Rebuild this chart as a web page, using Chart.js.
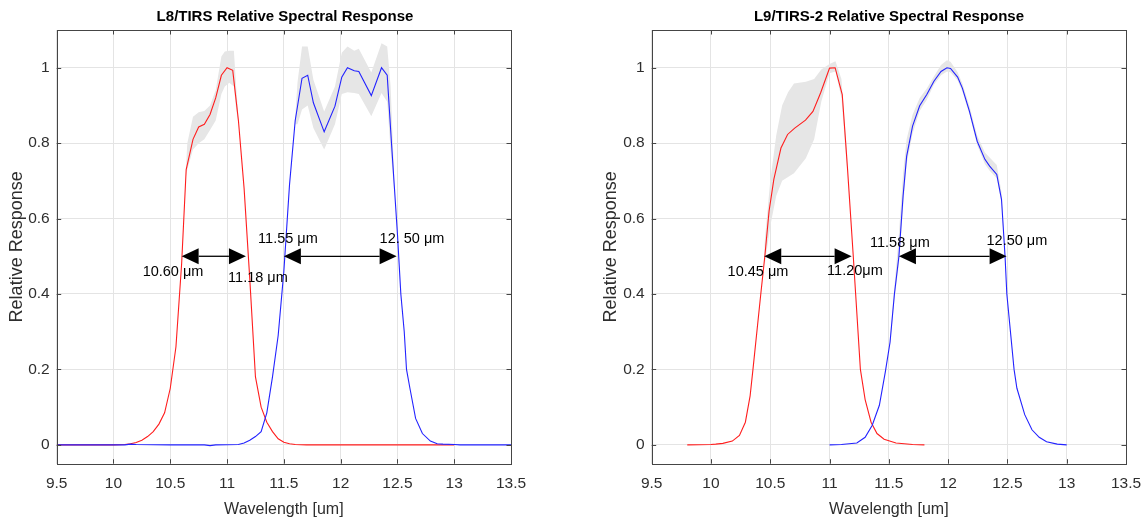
<!DOCTYPE html>
<html><head><meta charset="utf-8">
<script src="https://cdn.jsdelivr.net/npm/chart.js@4.4.0/dist/chart.umd.min.js"></script>
<style>
html,body{margin:0;padding:0;background:#fff;overflow:hidden;width:1144px;height:521px;position:relative;}
canvas{position:absolute;top:0;}
#c1{left:0;} #c2{left:580px;}
</style></head><body>
<canvas id="c1" width="570" height="521"></canvas>
<canvas id="c2" width="618" height="521"></canvas>
<script>
// ---------- tick labels ----------
const xTicks = [9.5,10,10.5,11,11.5,12,12.5,13,13.5];
const yTicks = [0,0.2,0.4,0.6,0.8,1];

// ---------- L8 / TIRS ----------
const l8RedWl  = [9.5,10.0,10.1,10.15,10.2,10.25,10.3,10.35,10.4,10.45,10.5,10.55,10.6,10.64,10.7,10.75,10.8,10.85,10.9,10.95,11.0,11.05,11.1,11.15,11.2,11.25,11.3,11.35,11.4,11.45,11.5,11.55,11.6,11.7,12.0,12.5,13.0];
const l8RedVal = [0,0,0.001,0.003,0.006,0.012,0.022,0.035,0.055,0.085,0.15,0.26,0.48,0.73,0.81,0.843,0.85,0.876,0.92,0.98,1.0,0.993,0.86,0.68,0.44,0.18,0.1,0.06,0.035,0.016,0.007,0.003,0.001,0,0,0,0];
const l8BlueWl  = [9.5,10.1,10.15,10.2,10.5,10.8,10.85,10.9,11.1,11.15,11.2,11.25,11.3,11.35,11.4,11.45,11.5,11.55,11.6,11.66,11.71,11.76,11.855,11.95,12.01,12.06,12.12,12.16,12.27,12.36,12.41,12.45,12.5,12.53,12.56,12.58,12.61,12.66,12.72,12.79,12.85,12.9,13.0,13.05,13.5];
const l8BlueVal = [0,0,0.002,0.001,0,0,-0.002,0,0.001,0.005,0.012,0.022,0.035,0.085,0.18,0.29,0.46,0.69,0.86,0.972,0.98,0.907,0.83,0.898,0.975,1.0,0.992,0.99,0.926,1.0,0.98,0.79,0.56,0.4,0.3,0.2,0.15,0.07,0.03,0.01,0.003,0.002,0.001,0,0];
const l8RedBandWl = [10.64,10.65,10.7,10.75,10.8,10.85,10.9,10.95,10.98,11.02,11.06,11.08,11.1];
const l8RedBandHi = [0.75,0.80,0.87,0.882,0.885,0.90,0.94,1.03,1.043,1.045,1.045,0.95,0.87];
const l8RedBandLo = [0.71,0.73,0.783,0.80,0.81,0.835,0.86,0.93,0.95,0.96,0.95,0.89,0.85];
const l8BlueBandWl = [11.6,11.62,11.66,11.71,11.76,11.855,11.95,12.01,12.06,12.12,12.16,12.27,12.36,12.41,12.44,12.47];
const l8BlueBandHi = [0.87,0.96,1.056,1.056,0.968,0.884,0.95,1.04,1.056,1.045,1.05,0.987,1.065,1.056,0.95,0.72];
const l8BlueBandLo = [0.85,0.85,0.889,0.90,0.84,0.783,0.85,0.93,0.935,0.933,0.93,0.871,0.933,0.91,0.78,0.68];
const l8Arrows = [[10.60,11.166,0.5],[11.50,12.493,0.5]];
const l8Labels = [["10.60 μm",10.524,0.457],["11.18 μm",11.272,0.443],["11.55 μm",11.536,0.547],["12. 50 μm",12.628,0.547]];

// ---------- L9 / TIRS-2 ----------
const l9RedWl  = [9.8,10.0,10.04,10.1,10.18,10.24,10.29,10.33,10.354,10.42,10.454,10.49,10.53,10.59,10.646,10.706,10.797,10.86,10.924,11.0,11.047,11.107,11.15,11.2,11.22,11.26,11.3,11.35,11.4,11.46,11.56,11.7,11.8];
const l9RedVal = [0,0.001,0.002,0.004,0.01,0.025,0.06,0.13,0.2,0.4,0.5,0.62,0.704,0.787,0.823,0.84,0.861,0.884,0.933,0.999,1.0,0.929,0.739,0.5,0.4,0.2,0.12,0.06,0.03,0.015,0.005,0.001,0];
const l9BlueWl  = [11.0,11.1,11.23,11.3,11.36,11.42,11.47,11.51,11.547,11.585,11.62,11.65,11.70,11.76,11.82,11.88,11.94,11.99,12.02,12.08,12.12,12.18,12.245,12.31,12.35,12.41,12.45,12.48,12.495,12.556,12.58,12.646,12.707,12.768,12.83,12.92,13.0];
const l9BlueVal = [0,0.001,0.005,0.02,0.052,0.105,0.193,0.272,0.4,0.5,0.66,0.765,0.845,0.899,0.929,0.964,0.99,1.0,0.998,0.975,0.946,0.884,0.805,0.757,0.739,0.717,0.651,0.5,0.4,0.2,0.15,0.08,0.04,0.02,0.008,0.002,0];
const l9RedBandWl = [10.45,10.5,10.55,10.6,10.65,10.7,10.8,10.87,10.93,11.0,11.05,11.1,11.15];
const l9RedBandHi = [0.53,0.70,0.82,0.90,0.935,0.958,0.963,0.97,0.995,1.01,1.017,0.97,0.76];
const l9RedBandLo = [0.47,0.58,0.66,0.70,0.71,0.72,0.76,0.81,0.91,0.985,0.99,0.92,0.72];
const l9BlueBandWl = [11.51,11.547,11.585,11.62,11.65,11.70,11.76,11.82,11.88,11.94,11.99,12.02,12.08,12.12,12.18,12.245,12.31,12.35,12.41,12.45,12.48];
const l9BlueBandHi = [0.285,0.42,0.56,0.72,0.81,0.875,0.92,0.945,0.977,1.007,1.02,1.016,0.988,0.958,0.898,0.82,0.775,0.762,0.742,0.67,0.51];
const l9BlueBandLo = [0.262,0.385,0.48,0.63,0.745,0.825,0.885,0.915,0.955,0.98,0.99,0.988,0.966,0.937,0.876,0.795,0.745,0.727,0.707,0.64,0.49];
const l9Arrows = [[10.449,11.186,0.5],[11.585,12.493,0.5]];
const l9Labels = [["10.45 μm",10.396,0.458],["11.20μm",11.214,0.46],["11.58 μm",11.593,0.534],["12.50 μm",12.58,0.5415]];

// ---------- helpers ----------
const pts = (xs, ys) => xs.map((x, i) => ({x: x, y: ys[i]}));
const RED = 'rgb(255,30,30)', BLUE = 'rgb(35,35,255)', BAND = '#e6e6e6';
const TXT = '#2e2e2e';
const sans = "'Liberation Sans',Arial,sans-serif";

const boxPlugin = {
  id: 'box',
  afterDatasetsDraw(chart, args, opts) {
    const {ctx, chartArea: a} = chart;
    const x = chart.scales.x, y = chart.scales.y;
    ctx.save();
    ctx.strokeStyle = '#454545';
    ctx.lineWidth = 1;
    ctx.beginPath();
    xTicks.forEach(v => {
      const px = Math.round(x.getPixelForValue(v)) + 0.5;
      ctx.moveTo(px, a.bottom); ctx.lineTo(px, a.bottom - 4.5);
      ctx.moveTo(px, a.top); ctx.lineTo(px, a.top + 4.5);
    });
    yTicks.forEach(v => {
      const py = Math.round(y.getPixelForValue(v)) + 0.5;
      ctx.moveTo(a.left, py); ctx.lineTo(a.left + 4.5, py);
      ctx.moveTo(a.right, py); ctx.lineTo(a.right - 4.5, py);
    });
    ctx.stroke();
    const l = Math.round(a.left) + 0.5, t = Math.round(a.top) + 0.5;
    ctx.strokeRect(l, t, Math.round(a.right) - Math.round(a.left), Math.round(a.bottom) - Math.round(a.top));
    // arrows
    ctx.fillStyle = '#000'; ctx.strokeStyle = '#000';
    (opts.arrows || []).forEach(([w1, w2, v]) => {
      const x1 = x.getPixelForValue(w1), x2 = x.getPixelForValue(w2), py = y.getPixelForValue(v);
      const L = 17, H = 8;
      ctx.lineWidth = 1.3;
      ctx.beginPath(); ctx.moveTo(x1 + L, py); ctx.lineTo(x2 - L, py); ctx.stroke();
      ctx.beginPath(); ctx.moveTo(x1, py); ctx.lineTo(x1 + L, py - H); ctx.lineTo(x1 + L, py + H); ctx.closePath(); ctx.fill();
      ctx.beginPath(); ctx.moveTo(x2, py); ctx.lineTo(x2 - L, py - H); ctx.lineTo(x2 - L, py + H); ctx.closePath(); ctx.fill();
    });
    ctx.font = "14.5px " + sans;
    ctx.textAlign = 'center'; ctx.textBaseline = 'middle';
    (opts.labels || []).forEach(([txt, w, v]) => {
      ctx.fillText(txt, x.getPixelForValue(w), y.getPixelForValue(v));
    });
    ctx.restore();
  }
};

function build(canvasId, cfg) {
  const lineDs = (xs, ys, col) => ({data: pts(xs, ys), borderColor: col, borderWidth: 1.1, pointRadius: 0, tension: 0, fill: false});
  const bandLo = (xs, ys) => ({data: pts(xs, ys), borderColor: 'rgba(0,0,0,0)', borderWidth: 0, pointRadius: 0, fill: false});
  const bandHi = (xs, ys) => ({data: pts(xs, ys), borderColor: 'rgba(0,0,0,0)', borderWidth: 0, pointRadius: 0, fill: '-1', backgroundColor: BAND});
  return new Chart(document.getElementById(canvasId), {
    type: 'line',
    data: {
      datasets: [
        lineDs(cfg.blueWl, cfg.blueVal, BLUE),
        lineDs(cfg.redWl, cfg.redVal, RED),
        bandLo(cfg.rbWl, cfg.rbLo), bandHi(cfg.rbWl, cfg.rbHi),
        bandLo(cfg.bbWl, cfg.bbLo), bandHi(cfg.bbWl, cfg.bbHi)
      ]
    },
    options: {
      responsive: false, animation: false, devicePixelRatio: 1,
      layout: {padding: 0},
      plugins: {
        legend: {display: false}, tooltip: {enabled: false},
        filler: {drawTime: 'beforeDatasetsDraw', propagate: false},
        title: {display: true, text: cfg.title, color: '#000', font: {family: sans, size: 15, weight: 'bold', lineHeight: 1.2}, padding: {top: 8, bottom: 4}},
        box: {arrows: cfg.arrows, labels: cfg.labels}
      },
      scales: {
        x: {
          type: 'linear', min: 9.5, max: 13.5,
          afterBuildTicks: s => { s.ticks = xTicks.map(v => ({value: v})); },
          ticks: {callback: v => String(v), color: TXT, font: {family: sans, size: 15.5}, padding: 10.5, maxRotation: 0, autoSkip: false},
          grid: {color: '#e4e4e4', drawTicks: false},
          border: {display: false},
          title: {display: true, text: 'Wavelength [um]', color: TXT, font: {family: sans, size: 16, lineHeight: 1.2}, padding: {top: 0, bottom: 2}},
          afterFit: s => { s.height = 57.3; }
        },
        y: {
          type: 'linear', position: 'left', min: -0.05, max: 1.1,
          afterBuildTicks: s => { s.ticks = yTicks.map(v => ({value: v})); },
          ticks: {callback: v => String(v), color: TXT, font: {family: sans, size: 15.5}, padding: 7},
          grid: {color: '#e4e4e4', drawTicks: false},
          border: {display: false},
          title: {display: true, text: 'Relative Response', color: TXT, font: {family: sans, size: 18, lineHeight: 1.2}, padding: {top: cfg.yTitlePad, bottom: 0}},
          afterFit: s => { s.width = cfg.yWidth; }
        },
        y2: {
          type: 'linear', position: 'right', display: true,
          grid: {display: false, drawOnChartArea: false}, ticks: {display: false}, border: {display: false},
          afterFit: s => { s.width = cfg.rightWidth; }
        }
      }
    },
    plugins: [boxPlugin]
  });
}

build('c1', {
  title: 'L8/TIRS Relative Spectral Response',
  redWl: l8RedWl, redVal: l8RedVal, blueWl: l8BlueWl, blueVal: l8BlueVal,
  rbWl: l8RedBandWl, rbHi: l8RedBandHi, rbLo: l8RedBandLo,
  bbWl: l8BlueBandWl, bbHi: l8BlueBandHi, bbLo: l8BlueBandLo,
  arrows: l8Arrows, labels: l8Labels,
  yWidth: 56.7, rightWidth: 59, yTitlePad: 5.9
});
build('c2', {
  title: 'L9/TIRS-2 Relative Spectral Response',
  redWl: l9RedWl, redVal: l9RedVal, blueWl: l9BlueWl, blueVal: l9BlueVal,
  rbWl: l9RedBandWl, rbHi: l9RedBandHi, rbLo: l9RedBandLo,
  bbWl: l9BlueBandWl, bbHi: l9BlueBandHi, bbLo: l9BlueBandLo,
  arrows: l9Arrows, labels: l9Labels,
  yWidth: 71.7, rightWidth: 72, yTitlePad: 20.2
});
</script>
</body></html>
